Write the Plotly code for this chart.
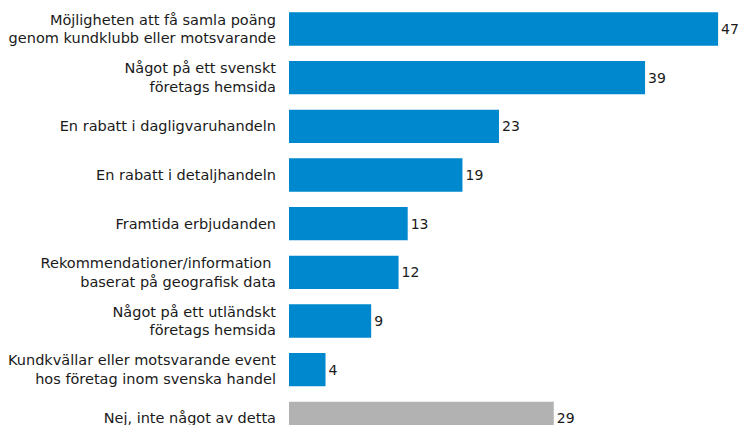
import plotly.graph_objects as go

categories = [
    "Möjligheten att få samla poäng<br>genom kundklubb eller motsvarande",
    "Något på ett svenskt<br>företags hemsida",
    "En rabatt i dagligvaruhandeln",
    "En rabatt i detaljhandeln",
    "Framtida erbjudanden",
    "Rekommendationer/information <br>baserat på geografisk data",
    "Något på ett utländskt<br>företags hemsida",
    "Kundkvällar eller motsvarande event<br>hos företag inom svenska handel",
    "Nej, inte något av detta",
]
values = [47, 39, 23, 19, 13, 12, 9, 4, 29]
colors = ["#0088CE"] * 8 + ["#B2B2B2"]

FONT = "DejaVu Sans, sans-serif"

fig = go.Figure(
    go.Bar(
        x=values,
        y=categories,
        orientation="h",
        marker=dict(color=colors, line=dict(width=0)),
        text=values,
        textposition="outside",
        textfont=dict(size=14, color="#1a1a1a", family=FONT),
        constraintext="none",
        cliponaxis=False,
        width=0.686,
    )
)

fig.update_layout(
    width=740,
    height=425,
    margin=dict(l=289, r=0, t=0, b=0, autoexpand=False),
    plot_bgcolor="white",
    paper_bgcolor="white",
    showlegend=False,
    font=dict(family=FONT, size=14, color="#1a1a1a"),
)
fig.update_xaxes(range=[0, 451 / 9.13], visible=False, showgrid=False,
                 zeroline=False, automargin=False)
fig.update_yaxes(
    categoryorder="array",
    categoryarray=categories,
    range=[8.137, -0.596],
    showgrid=False,
    zeroline=False,
    showline=False,
    ticks="",
    automargin=False,
    ticklabelstandoff=12,
    tickfont=dict(size=14.5, color="#1a1a1a", family=FONT),
)

# drop the default body margin so the figure fills the window exactly
fig.write_html(
    "out.html",
    config={"displayModeBar": False},
    post_script="document.body.style.margin='0';document.body.style.overflow='hidden';",
)
